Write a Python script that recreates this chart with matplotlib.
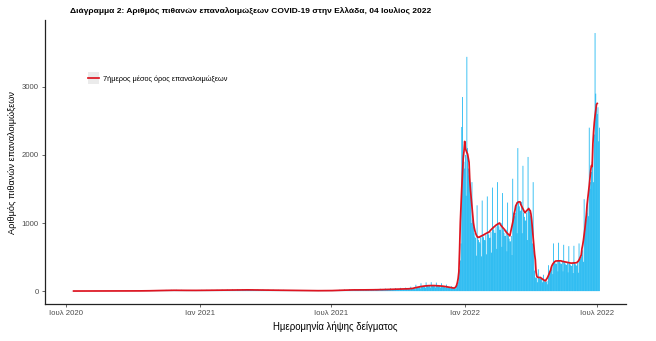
import matplotlib
matplotlib.use("Agg")
import matplotlib.pyplot as plt
from matplotlib.legend_handler import HandlerLine2D
from matplotlib.patches import Rectangle
from matplotlib.lines import Line2D
import pandas as pd

plt.rcParams["font.family"] = ["Liberation Sans", "DejaVu Sans"]

# Daily probable reinfections by sampling date, 9 Jul 2020 - 4 Jul 2022
start_date = "2020-07-09"
head_days = [1, 1, 1, 0]                       # Thu 9 - Sun 12 Jul 2020
weekly_rows = [                                # Monday .. Sunday
    [2, 1, 1, 1, 1, 1, 0],          # 13 Jul 2020
    [1, 1, 1, 1, 1, 2, 0],
    [2, 1, 0, 1, 1, 1, 1],
    [2, 1, 1, 1, 0, 1, 1],
    [3, 2, 2, 2, 2, 2, 1],
    [3, 2, 2, 2, 1, 2, 1],
    [4, 2, 2, 2, 2, 2, 1],
    [3, 2, 2, 2, 2, 2, 1],
    [3, 2, 2, 1, 2, 2, 1],
    [4, 2, 2, 2, 2, 2, 1],
    [3, 2, 2, 2, 2, 2, 1],
    [5, 3, 3, 3, 3, 3, 2],
    [5, 3, 3, 3, 2, 3, 2],
    [5, 3, 3, 3, 3, 3, 2],
    [6, 4, 4, 4, 4, 4, 3],
    [8, 5, 5, 5, 4, 5, 3],
    [11, 7, 7, 6, 6, 7, 5],         # 2 Nov 2020
    [14, 9, 9, 8, 8, 9, 6],
    [18, 11, 10, 10, 10, 11, 7],
    [19, 12, 11, 11, 11, 12, 8],
    [19, 12, 11, 11, 11, 12, 8],
    [18, 11, 10, 10, 10, 11, 7],
    [16, 10, 10, 9, 9, 10, 6],
    [16, 10, 9, 9, 9, 10, 7],
    [16, 10, 10, 9, 9, 10, 6],
    [18, 11, 10, 10, 10, 11, 7],    # 4 Jan 2021
    [19, 12, 11, 11, 11, 12, 8],
    [19, 12, 12, 11, 11, 12, 8],
    [21, 13, 12, 12, 12, 13, 8],
    [22, 14, 13, 13, 13, 14, 9],
    [24, 15, 14, 14, 13, 15, 10],
    [26, 16, 15, 14, 14, 16, 10],
    [27, 17, 16, 15, 15, 17, 11],
    [29, 18, 17, 16, 16, 18, 12],   # 1 Mar 2021
    [29, 18, 17, 16, 16, 18, 12],
    [27, 17, 16, 15, 15, 17, 11],
    [26, 16, 15, 14, 14, 16, 10],
    [24, 15, 14, 14, 13, 15, 10],
    [22, 14, 13, 13, 13, 14, 9],
    [21, 13, 12, 12, 12, 13, 8],
    [19, 12, 11, 11, 11, 12, 8],
    [18, 11, 10, 10, 10, 11, 7],
    [16, 10, 10, 9, 9, 10, 6],      # 3 May 2021
    [14, 9, 9, 8, 8, 9, 6],
    [13, 8, 8, 7, 7, 8, 5],
    [11, 7, 7, 6, 6, 7, 5],
    [11, 7, 6, 6, 6, 7, 5],
    [10, 6, 6, 5, 5, 6, 4],
    [10, 6, 6, 5, 5, 6, 4],
    [10, 6, 6, 5, 6, 6, 4],
    [11, 7, 7, 6, 6, 7, 5],
    [14, 9, 9, 8, 8, 9, 6],         # 5 Jul 2021
    [19, 12, 11, 11, 11, 12, 8],
    [24, 15, 14, 14, 13, 15, 10],
    [27, 17, 16, 15, 15, 17, 11],
    [29, 18, 17, 16, 16, 18, 12],
    [29, 18, 17, 16, 16, 18, 12],
    [29, 18, 17, 16, 16, 18, 12],
    [30, 19, 18, 17, 17, 19, 12],
    [32, 20, 19, 18, 18, 20, 13],   # 30 Aug 2021
    [35, 22, 21, 20, 20, 22, 14],
    [38, 24, 23, 22, 22, 24, 16],
    [42, 26, 25, 23, 23, 26, 17],
    [45, 28, 27, 25, 25, 28, 18],
    [48, 30, 28, 27, 27, 30, 20],
    [51, 32, 30, 29, 29, 32, 21],
    [64, 40, 38, 36, 36, 40, 26],
    [93, 58, 55, 52, 52, 58, 38],   # 25 Oct 2021
    [115, 72, 68, 65, 65, 72, 47],
    [128, 80, 76, 72, 72, 80, 52],
    [131, 82, 78, 74, 74, 82, 53],
    [125, 78, 74, 70, 70, 78, 51],
    [115, 72, 68, 65, 65, 72, 47],
    [96, 60, 57, 54, 54, 60, 39],
    [72, 45, 43, 40, 40, 45, 29],
    [80, 95, 130, 200, 320, 450, 700],            # 20 Dec 2021
    [2410, 2850, 2000, 1900, 1800, 2000, 1400],
    [3440, 2100, 1800, 1700, 1650, 1550, 1000],   # 3 Jan 2022
    [1600, 1050, 950, 850, 800, 780, 520],
    [1260, 800, 750, 720, 700, 790, 510],
    [1330, 830, 790, 750, 745, 830, 540],
    [1390, 870, 830, 780, 785, 870, 565],
    [1520, 950, 900, 855, 855, 950, 620],         # 7 Feb 2022
    [1600, 1000, 950, 900, 900, 1000, 650],
    [1440, 900, 855, 810, 810, 900, 585],
    [1300, 810, 770, 730, 730, 810, 530],
    [1650, 1150, 1100, 1100, 1150, 1300, 850],    # 7 Mar 2022
    [2100, 1310, 1245, 1180, 1180, 1310, 850],
    [1840, 1150, 1090, 1035, 1035, 1150, 750],
    [1970, 1230, 1170, 1110, 1100, 1000, 700],
    [1600, 600, 300, 200, 190, 200, 130],         # 4 Apr 2022
    [320, 200, 190, 180, 180, 200, 130],
    [240, 150, 140, 135, 135, 150, 100],
    [380, 260, 280, 300, 320, 360, 250],
    [700, 440, 420, 400, 400, 440, 290],          # 2 May 2022
    [710, 445, 420, 400, 400, 445, 290],
    [680, 425, 405, 385, 385, 425, 275],
    [660, 410, 390, 370, 370, 410, 265],
    [665, 415, 395, 375, 375, 415, 270],
    [700, 470, 480, 500, 530, 600, 430],          # 6 Jun 2022
    [1350, 850, 950, 1050, 1150, 1350, 1100],
    [2400, 1500, 1600, 1750, 1900, 2150, 1600],
    [2300, 3790, 2900, 2700, 2600, 2700, 2200],   # 27 Jun 2022
]
tail_days = [2400]                             # Mon 4 Jul 2022

daily_cases = head_days + [v for row in weekly_rows for v in row] + tail_days
dates = pd.date_range(start_date, periods=len(daily_cases), freq="D")
series = pd.Series(daily_cases, index=dates, dtype=float)
rolling_mean = series.rolling(7, center=True).mean()

tick_dates = ["2020-07-01", "2021-01-01", "2021-07-01", "2022-01-01", "2022-07-01"]
tick_labels = ["Ιουλ 2020", "Ιαν 2021", "Ιουλ 2021", "Ιαν 2022", "Ιουλ 2022"]
y_ticks = [0, 1000, 2000, 3000]

title_text = "Διάγραμμα 2: Αριθμός πιθανών επαναλοιμώξεων COVID-19 στην Ελλάδα, 04 Ιουλίος 2022"
x_title = "Ημερομηνία λήψης δείγματος"
y_title = "Αριθμός πιθανών επαναλοιμώξεων"
legend_text = "7ήμερος μέσος όρος επαναλοιμώξεων"

bar_color = "#00AEEF"
line_color = "#DE1420"
axis_grey = "#4D4D4D"


class KeyWithBackground(HandlerLine2D):
    """Legend key drawn on a light grey square."""

    def create_artists(self, legend, orig_handle, xdescent, ydescent,
                       width, height, fontsize, trans):
        artists = super().create_artists(legend, orig_handle, xdescent, ydescent,
                                         width, height, fontsize, trans)
        side = width
        bg = Rectangle((-xdescent, -ydescent + height / 2 - side / 2), side, side,
                       facecolor="#EBEBEB", edgecolor="none", transform=trans)
        return [bg] + list(artists)


fig = plt.figure(figsize=(6.56, 3.41), dpi=100)
ax = fig.add_axes([0.0686, 0.1085, 0.8854, 0.8325])

bars = ax.bar(series.index, series.values, width=1.0, color=bar_color,
              linewidth=0, align="center")
for patch in bars:
    patch.set_snap(False)
ax.plot(rolling_mean.index, rolling_mean.values, color=line_color, lw=1.25)

vmax = series.max()
ax.set_ylim(-0.05 * vmax, 1.05 * vmax)
span = (dates[-1] - dates[0]).days
pad = pd.Timedelta(days=0.05 * span)
ax.set_xlim(dates[0] - pad, dates[-1] + pad)

ax.set_xticks(pd.to_datetime(tick_dates))
ax.set_xticklabels(tick_labels)
ax.set_yticks(y_ticks)
ax.tick_params(axis="both", labelsize=5.6, colors=axis_grey, length=2.5,
               width=0.6, pad=2)

for side in ("top", "right"):
    ax.spines[side].set_visible(False)
for side in ("left", "bottom"):
    ax.spines[side].set_color("#222222")
    ax.spines[side].set_linewidth(0.9)

ax.set_xlabel(x_title, fontsize=6.9, labelpad=3)
ax.set_ylabel(y_title, fontsize=6.6, labelpad=3)

fig.text(0.107, 0.968, title_text, fontsize=6.0, fontweight="bold",
         ha="left", va="center")

key = Line2D([], [], color=line_color, lw=1.25)
ax.legend([key], [legend_text], loc="upper left",
          bbox_to_anchor=(0.062, 0.83), frameon=False, fontsize=5.3,
          handlelength=1.6, handletextpad=0.5,
          handler_map={Line2D: KeyWithBackground()})

fig.savefig("out.png", dpi=100, facecolor="white")
